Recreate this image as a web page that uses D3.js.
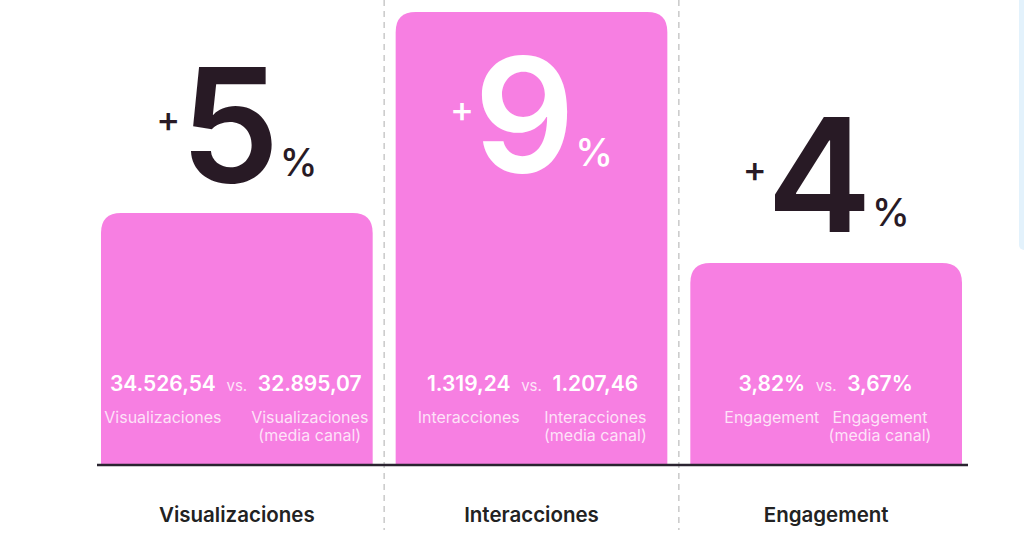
<!DOCTYPE html>
<html>
<head>
<meta charset="utf-8">
<script src="https://cdn.jsdelivr.net/npm/d3@7"></script>
<style>
  html, body { margin: 0; padding: 0; background: #ffffff; }
  #chart { width: 1024px; height: 545px; }
  text { font-family: Inter, "Open Sans", sans-serif; }
</style>
</head>
<body>
<div id="chart"></div>
<script>
const categories = ["Visualizaciones", "Interacciones", "Engagement"];
const growth = [5, 9, 4];
const ownValues = ["34.526,54", "1.319,24", "3,82%"];
const channelValues = ["32.895,07", "1.207,46", "3,67%"];
const metricLabels = ["Visualizaciones", "Interacciones", "Engagement"];
const channelSuffix = "(media canal)";

const width = 1024;
const height = 545;
const baseY = 464;
const pink = "#f77fe2";
const dark = "#281a25";

const svg = d3.select("#chart")
    .append("svg")
    .attr("width", width)
    .attr("height", height)
    .attr("viewBox", `0 0 ${width} ${height}`);

// faint strip on the right edge
svg.append("rect")
    .attr("x", 1019)
    .attr("y", -10)
    .attr("width", 12)
    .attr("height", 260)
    .attr("rx", 5)
    .attr("fill", "#e3f2fc");

const x = d3.scaleBand()
    .domain(categories)
    .range([101, 962])
    .paddingInner(0.078)
    .paddingOuter(0);

const y = d3.scaleLinear()
    .domain([0, 9])
    .range([baseY, 12]);

// dashed separators between columns
const seps = categories.slice(1).map(c => x(c) - (x.step() - x.bandwidth()) / 2);
svg.selectAll(".sep")
    .data(seps)
    .enter()
    .append("line")
    .attr("class", "sep")
    .attr("x1", d => d)
    .attr("x2", d => d)
    .attr("y1", 0)
    .attr("y2", 530)
    .attr("stroke", "#c9c9c9")
    .attr("stroke-width", 1.5)
    .attr("stroke-dasharray", "6,5");

function topRounded(x0, y0, w, h, r) {
    return `M${x0},${y0 + h} V${y0 + r} Q${x0},${y0} ${x0 + r},${y0} H${x0 + w - r} Q${x0 + w},${y0} ${x0 + w},${y0 + r} V${y0 + h} Z`;
}

const cols = svg.selectAll(".col")
    .data(categories.map((c, i) => ({
        cat: c,
        growth: growth[i],
        own: ownValues[i],
        channel: channelValues[i],
        label: metricLabels[i]
    })))
    .enter()
    .append("g")
    .attr("class", "col");

cols.append("path")
    .attr("d", d => topRounded(x(d.cat), y(d.growth), x.bandwidth(), baseY - y(d.growth), 20))
    .attr("fill", pink);

// big growth figures: one text, "+" raised, digit, "%" low
cols.each(function(d) {
    const g = d3.select(this);
    const cx = x(d.cat) + x.bandwidth() / 2;
    const top = y(d.growth);
    const inside = top - 30 < 172;
    const base = inside ? 172 : top - 31;
    const col = inside ? "#ffffff" : dark;

    const t = g.append("text")
        .attr("x", cx)
        .attr("y", base)
        .attr("text-anchor", "middle")
        .attr("fill", col);
    t.append("tspan")
        .attr("dy", -50)
        .style("font-size", "36px")
        .style("font-weight", 500)
        .text("+");
    t.append("tspan")
        .attr("dy", 50)
        .style("font-size", "158px")
        .style("font-weight", 600)
        .text(d.growth);
    t.append("tspan")
        .attr("dy", -6)
        .style("font-size", "38px")
        .style("font-weight", 500)
        .text("%");
});

// comparison values inside the bars
cols.each(function(d) {
    const g = d3.select(this);
    const cx = x(d.cat) + x.bandwidth() / 2;

    g.append("text")
        .attr("x", cx)
        .attr("y", 391)
        .attr("text-anchor", "middle")
        .style("font-size", "15px")
        .attr("fill", "rgba(255,255,255,0.8)")
        .text("vs.");

    const left = g.append("text")
        .attr("x", cx - 21)
        .attr("y", 391)
        .attr("text-anchor", "end")
        .style("font-size", "21px")
        .style("font-weight", 600)
        .attr("fill", "#ffffff")
        .text(d.own);
    const right = g.append("text")
        .attr("x", cx + 21)
        .attr("y", 391)
        .attr("text-anchor", "start")
        .style("font-size", "21px")
        .style("font-weight", 600)
        .attr("fill", "#ffffff")
        .text(d.channel);

    const lw = left.node().getComputedTextLength();
    const rw = right.node().getComputedTextLength();
    const lc = cx - 21 - lw / 2;
    const rc = cx + 21 + rw / 2;

    g.append("text")
        .attr("x", lc)
        .attr("y", 423)
        .attr("text-anchor", "middle")
        .style("font-size", "16px")
        .attr("fill", "rgba(255,255,255,0.78)")
        .text(d.label);

    g.append("text")
        .attr("x", rc)
        .attr("y", 423)
        .attr("text-anchor", "middle")
        .style("font-size", "16px")
        .attr("fill", "rgba(255,255,255,0.78)")
        .text(d.label);

    g.append("text")
        .attr("x", rc)
        .attr("y", 441)
        .attr("text-anchor", "middle")
        .style("font-size", "16px")
        .attr("fill", "rgba(255,255,255,0.78)")
        .text(channelSuffix);
});

// baseline
svg.append("line")
    .attr("x1", x.range()[0] - 4)
    .attr("x2", x.range()[1] + 6)
    .attr("y1", baseY + 1)
    .attr("y2", baseY + 1)
    .attr("stroke", "#2a2430")
    .attr("stroke-width", 2.5);

// category axis
const xAxis = svg.append("g")
    .attr("transform", `translate(0,${baseY})`)
    .call(d3.axisBottom(x).tickSize(0).tickPadding(0));
xAxis.select(".domain").remove();
xAxis.selectAll("text")
    .attr("y", 58)
    .attr("dy", 0)
    .style("font-family", "Inter, sans-serif")
    .style("font-size", "20.5px")
    .style("font-weight", 600)
    .attr("fill", "#222222");
</script>
</body>
</html>
